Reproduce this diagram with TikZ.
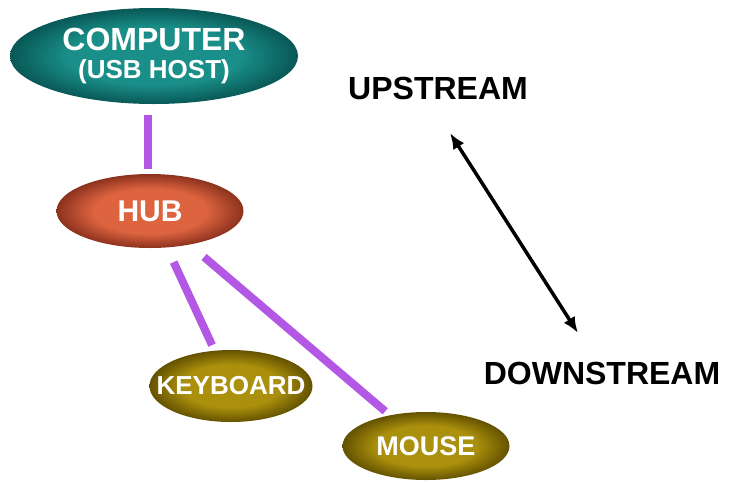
\documentclass[tikz,border=0pt]{standalone}
\usepackage{fontspec}
\setmainfont{Liberation Sans}
\usetikzlibrary{shapes.geometric,arrows.meta}

\definecolor{tealin}{RGB}{26,142,136}
\definecolor{tealout}{RGB}{8,88,86}
\definecolor{hubin}{RGB}{222,100,64}
\definecolor{hubout}{RGB}{140,50,30}
\definecolor{olivein}{RGB}{170,144,12}
\definecolor{oliveout}{RGB}{100,82,0}
\definecolor{wirepurple}{RGB}{178,88,228}

\pgfdeclareradialshading{tealgloss}{\pgfpointorigin}{color(0bp)=(tealin); color(15bp)=(tealin); color(25bp)=(tealout); color(50bp)=(tealout)}
\pgfdeclareradialshading{hubgloss}{\pgfpointorigin}{color(0bp)=(hubin); color(15bp)=(hubin); color(25bp)=(hubout); color(50bp)=(hubout)}
\pgfdeclareradialshading{olivegloss}{\pgfpointorigin}{color(0bp)=(olivein); color(15bp)=(olivein); color(25bp)=(oliveout); color(50bp)=(oliveout)}

\begin{document}
\begin{tikzpicture}[x=1pt,y=-1pt,
  bubble/.style={ellipse,shade,inner sep=0pt,text=white,font=\bfseries},
  wire/.style={line width=8pt,draw=wirepurple},
  tag/.style={font=\bfseries\fontsize{32}{32}\selectfont}]
\useasboundingbox (0,0) rectangle (737,483);

% devices
\node[bubble,shading=tealgloss,minimum width=288pt,minimum height=96pt,align=center] (computer) at (154,56)
  {\fontsize{32}{32}\selectfont COMPUTER\\[7pt]\fontsize{26}{26}\selectfont (USB HOST)};
\node[bubble,shading=hubgloss,minimum width=187pt,minimum height=74pt] (hub) at (150,211)
  {\fontsize{30}{30}\selectfont HUB};
\node[bubble,shading=olivegloss,minimum width=163pt,minimum height=72pt] (keyboard) at (231,386)
  {\fontsize{26}{26}\selectfont\makebox[0pt]{KEYBOARD}};
\node[bubble,shading=olivegloss,minimum width=167pt,minimum height=68pt] (mouse) at (426,446)
  {\fontsize{27}{27}\selectfont MOUSE};

% cables
\draw[wire,shorten <=5pt,shorten >=11pt] ([xshift=-2pt]hub.north) -- ([xshift=-2pt]hub.north |- computer.south);
\draw[wire,shorten <=16pt,shorten >=6pt] (hub) -- (keyboard);
\draw[wire,shorten <=19pt,shorten >=6pt] (hub) -- (mouse);

% direction
\node[tag] (upstream) at (438,88) {UPSTREAM};
\node[tag] (downstream) at (602,373) {DOWNSTREAM};
\coordinate (up) at (450,133);
\coordinate (down) at (578,333);
\draw[{Latex[length=16pt,width=13pt]}-{Latex[length=16pt,width=13pt]},line width=3.5pt] (up) -- (down);
\end{tikzpicture}
\end{document}
